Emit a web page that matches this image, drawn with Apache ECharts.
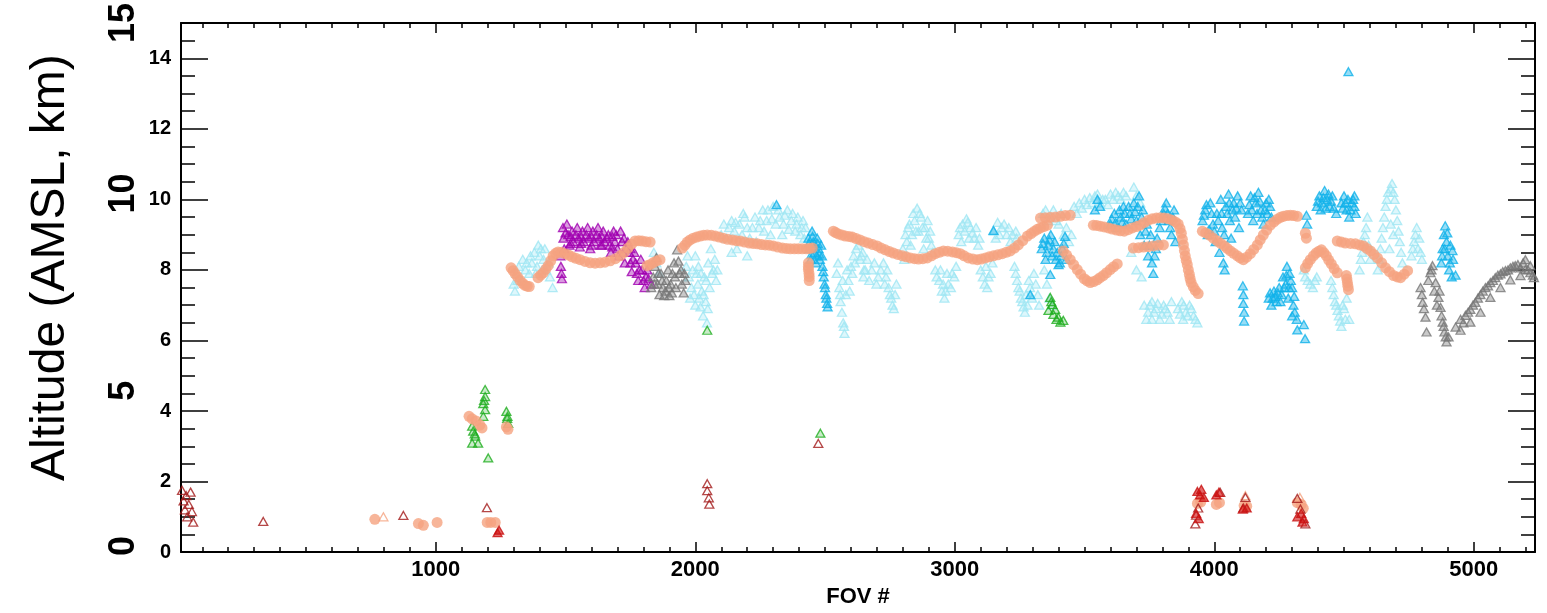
<!DOCTYPE html>
<html><head><meta charset="utf-8">
<script src="https://cdn.jsdelivr.net/npm/echarts@6/dist/echarts.min.js"></script>
<style>html,body{margin:0;padding:0;background:#fff}#c{width:1547px;height:613px}</style>
</head><body><div id="c"></div>
<script>
// ---- tick labels ----
const xTickLabels = [1000, 2000, 3000, 4000, 5000];
const yTickLabels = [0, 2, 4, 6, 8, 10, 12, 14];
const bigYLabels = [0, 5, 10, 15];

// ---- series values [FOV #, altitude km] ----
const lightCyan = [
[1300,7.6],[1310,7.9],[1320,8.1],[1330,7.7],[1335,8.3],[1350,8.2],[1360,7.9],[1365,8.4],[1380,8.5],[1390,8.1],[1395,8.7],[1405,8.6],[1415,8.3],[1425,8.0],[1440,7.8],[1450,7.5],
[1305,7.4],[1315,7.7],[1345,8.0],[1370,8.2],[1385,7.9],[1400,8.4],[1410,8.0],[1420,8.6],[1435,8.2],
[1840,8.5],[1850,8.2],[1860,7.9],
[1965,8.1],[1975,7.8],[1985,7.5],[1995,7.3],[2000,8.4],[2005,7.9],[2010,7.6],[2015,7.2],[2020,6.95],[2025,7.4],[2030,6.7],[2035,7.8],[2040,7.1],[2045,6.5],[2050,8.2],[2055,7.5],[2060,8.6],[2070,8.0],[2080,7.7],
[1970,8.4],[1980,7.2],[1990,8.0],[2000,7.0],[2012,8.1],[2022,7.9],[2032,7.3],[2042,7.7],[2048,6.9],[2065,7.9],[2075,8.3],[2085,8.0],
[2110,9.3],[2120,8.9],[2140,9.4],[2150,9.1],[2160,8.6],[2170,9.3],[2190,9.5],[2200,9.2],[2210,8.9],[2230,9.5],[2245,9.2],[2260,9.7],[2275,9.4],[2290,9.0],[2300,9.8],[2325,9.5],[2340,9.3],[2355,9.7],[2370,9.4],[2385,9.1],[2395,9.5],[2410,9.2],[2420,8.9],[2140,8.5],[2200,8.4],
[2100,9.0],[2130,9.2],[2155,9.35],[2180,9.0],[2185,9.6],[2220,9.2],[2235,8.8],[2250,9.4],[2265,9.1],[2280,9.7],[2295,9.45],[2310,9.3],[2320,9.7],[2335,9.0],[2345,9.55],[2360,9.15],[2375,9.6],[2390,9.3],[2405,9.0],[2415,9.4],[2425,9.2],
[2545,7.9],[2555,7.5],[2560,7.1],[2565,6.8],[2570,6.5],[2575,6.2],[2580,7.3],[2590,7.7],[2600,8.1],[2610,8.4],[2620,8.6],[2635,8.3],[2650,8.0],
[2550,8.2],[2558,7.3],[2568,7.7],[2573,6.4],[2585,8.0],[2595,7.4],[2605,7.9],[2615,8.2],[2628,8.7],[2645,8.5],
[2640,8.4],[2655,8.0],[2670,7.7],[2690,8.2],[2705,7.8],
[2648,7.8],[2662,8.3],[2680,8.0],[2698,7.6],[2715,8.0],[2730,7.6],[2740,8.0],[2750,7.3],[2760,7.0],[2770,7.3],
[2725,8.2],[2735,7.8],[2745,7.5],[2755,7.2],[2765,6.9],[2775,7.6],
[2800,8.6],[2810,9.0],[2825,9.3],[2840,9.6],[2855,9.75],[2870,9.5],[2885,9.2],[2900,8.9],[2915,8.5],[2830,8.7],[2860,9.1],[2880,8.6],
[2805,8.3],[2815,8.8],[2820,9.2],[2835,9.0],[2845,9.4],[2850,9.1],[2865,9.6],[2875,9.2],[2890,8.9],[2895,9.4],[2905,9.1],[2910,8.7],
[2925,8.0],[2940,7.7],[2950,7.4],[2960,7.2],[2975,7.6],[2990,7.9],[3005,8.1],
[2930,7.8],[2945,8.0],[2955,7.6],[2965,7.4],[2970,7.9],[2985,7.5],[2998,7.8],
[3015,9.0],[3030,9.3],[3045,9.45],[3060,9.2],[3075,8.9],[3090,8.7],
[3020,9.2],[3025,8.8],[3038,9.1],[3050,9.35],[3055,8.9],[3068,9.05],[3082,9.2],[3095,8.9],
[3100,8.0],[3115,7.6],[3130,7.8],[3145,8.2],[3108,7.8],[3120,8.1],[3125,7.5],[3138,7.9],
[3150,9.1],[3165,9.35],[3180,9.2],[3200,9.0],[3215,8.8],[3235,9.1],
[3158,8.9],[3172,9.0],[3190,9.3],[3208,9.2],[3222,9.0],[3238,8.9],
[3230,8.1],[3240,7.7],[3250,7.4],[3260,7.1],[3270,6.8],[3280,7.0],[3290,7.5],[3305,7.9],[3320,7.3],
[3235,7.9],[3245,7.5],[3255,7.2],[3265,6.95],[3275,7.3],[3285,7.7],[3298,7.2],[3312,7.6],[3325,7.0],
[3345,8.0],[3355,7.6],[3365,7.2],[3375,7.0],
[3340,9.6],[3360,9.4],[3380,9.7],[3400,9.3],[3420,9.0],[3440,8.8],
[3350,9.7],[3370,9.5],[3390,9.4],[3410,9.6],[3430,9.2],[3450,9.0],
[3460,9.8],[3480,9.9],[3500,10.0],[3520,10.05],[3540,10.1],[3560,9.9],[3580,10.0],[3600,10.15],[3620,10.2],[3640,10.0],[3660,10.1],
[3470,9.6],[3490,9.75],[3510,9.85],[3530,9.9],[3550,10.15],[3570,10.0],[3590,9.85],[3610,10.0],[3630,10.1],[3650,10.2],
[3690,10.35],[3700,10.1],[3715,9.9],[3680,8.5],[3700,8.0],[3720,7.8],
[3730,7.0],[3745,6.8],[3760,7.1],[3775,6.9],[3790,6.6],[3805,7.0],[3820,6.8],[3835,7.1],[3860,6.9],[3875,7.1],[3890,6.8],[3905,7.0],[3920,6.7],[3935,6.5],[3760,6.6],[3880,6.6],
[3738,6.6],[3752,7.0],[3768,6.8],[3782,7.05],[3798,6.75],[3812,6.9],[3828,6.6],[3868,6.75],[3882,7.0],[3898,6.7],[3912,6.9],[3928,6.6],
[4345,8.0],[4360,7.7],[4380,7.5],[4395,7.8],[4450,7.7],[4460,7.3],[4470,7.0],[4480,6.7],[4490,6.4],[4500,6.9],[4510,7.2],[4520,6.6],
[4350,7.8],[4370,7.6],[4388,7.7],[4455,7.5],[4465,7.1],[4475,6.85],[4485,6.55],[4495,7.0],[4505,6.6],
[4560,8.0],[4570,8.5],[4580,9.0],[4590,9.5],[4600,8.3],[4630,8.0],[4640,8.6],[4650,9.2],[4660,9.8],[4670,10.2],[4685,10.45],[4695,10.0],[4705,9.4],[4715,8.8],[4725,8.2],[4690,9.0],[4675,8.6],
[4565,8.3],[4575,8.8],[4585,9.2],[4595,8.7],[4635,8.3],[4645,8.9],[4655,9.5],[4665,10.0],[4680,10.3],[4690,10.2],[4700,9.7],[4710,9.1],[4720,8.5],[4680,9.3],
[4760,8.4],[4770,8.8],[4780,9.2],[4790,8.9],[4800,8.3],[4765,8.6],[4775,9.0],[4785,8.6],[4795,8.5]
];
const deepBlue = [
[2436,8.9],[2440,8.6],[2445,8.3],[2450,9.1],[2455,8.8],[2460,8.5],[2465,8.2],[2470,8.9],[2475,8.6],[2480,8.3],[2485,8.7],[2490,8.1],[2495,7.8],[2498,7.6],[2500,7.5],[2503,7.3],[2505,7.2],[2510,6.95],
[2438,8.75],[2448,8.45],[2452,8.95],[2458,8.65],[2468,8.4],[2472,8.75],[2478,8.45],[2488,8.4],[2493,7.95],[2508,7.05],
[2313,9.85],[3149,9.12],[3291,7.3],
[3335,8.6],[3345,8.9],[3350,8.3],[3360,8.7],[3370,9.0],[3375,8.4],[3385,8.8],[3395,8.5],[3405,8.2],[3415,8.6],[3425,8.95],[3430,8.3],[3368,7.87],[3400,8.15],
[3340,8.75],[3355,8.5],[3365,8.85],[3380,8.6],[3390,8.3],[3410,8.4],[3420,8.75],
[3540,9.7],[3550,10.0],[3560,9.8],
[3600,9.3],[3615,9.6],[3625,9.2],[3640,9.5],[3650,9.8],[3660,9.3],[3675,9.6],[3690,9.9],[3700,9.4],[3710,10.1],[3715,9.0],[3725,9.7],[3730,8.7],[3740,9.3],[3745,8.4],[3755,9.0],[3760,8.2],[3765,7.9],[3775,8.6],[3790,9.2],[3805,9.6],[3815,9.9],[3825,9.4],[3835,9.0],[3845,9.7],[3850,8.8],
[3605,9.45],[3620,9.35],[3635,9.7],[3645,9.35],[3655,9.6],[3670,9.8],[3680,9.45],[3695,9.65],[3705,9.8],[3720,9.5],[3735,9.1],[3750,8.7],[3770,8.4],[3780,8.9],[3795,9.4],[3810,9.75],[3820,9.6],[3830,9.2],[3840,9.5],
[3955,9.4],[3965,9.7],[3975,9.0],[3985,9.9],[3995,9.3],[4005,8.8],[4010,9.6],[4020,8.5],[4025,10.0],[4030,9.2],[4035,8.2],[4040,8.0],[4045,9.8],[4055,10.15],[4060,9.4],[4065,8.9],[4075,9.9],[4080,9.5],[4090,10.1],[4095,9.2],[4105,9.7],
[3960,9.55],[3970,9.85],[3980,9.15],[3990,9.6],[4000,9.1],[4015,9.4],[4028,9.6],[4038,9.0],[4050,9.6],[4058,9.9],[4070,9.7],[4085,9.75],[4100,9.9],
[4130,9.6],[4140,10.1],[4150,9.4],[4160,9.9],[4170,10.2],[4180,9.7],[4190,9.3],[4200,9.9],[4210,10.0],[4220,9.5],
[4135,9.85],[4145,9.7],[4155,10.05],[4165,9.6],[4175,9.95],[4185,9.5],[4195,9.7],[4205,9.6],[4215,9.8],
[4355,9.55],[4358,9.3],
[4395,9.8],[4405,10.1],[4415,9.9],[4425,10.25],[4435,10.0],[4445,9.8],[4455,10.1],[4470,9.6],[4490,9.9],[4500,10.1],[4510,9.7],[4520,9.5],[4530,9.9],[4540,10.1],[4545,9.6],
[4400,9.95],[4410,9.7],[4420,10.05],[4430,9.75],[4440,10.15],[4450,9.95],[4460,9.75],[4495,9.75],[4505,9.9],[4515,10.0],[4525,9.7],[4535,10.0],[4540,9.8],
[4110,7.55],[4112,7.3],[4112,7.05],[4115,6.8],[4115,6.55],
[4210,7.2],[4220,7.0],[4230,7.4],[4240,7.1],[4250,7.5],[4260,7.3],[4265,7.8],[4275,7.6],[4280,8.1],[4285,7.2],[4290,7.9],[4300,7.5],[4305,7.0],[4310,6.8],[4318,6.6],[4300,6.7],
[4215,7.35],[4225,7.2],[4235,7.25],[4245,7.35],[4255,7.1],[4270,7.5],[4278,7.85],[4288,7.5],[4295,7.7],[4308,7.25],
[4320,6.3],[4345,6.45],[4350,6.05],
[4875,8.2],[4880,8.6],[4885,9.0],[4890,9.25],[4895,8.8],[4900,8.4],[4905,8.0],[4910,8.7],[4915,7.8],[4920,8.3],[4930,7.85],
[4878,8.4],[4888,8.6],[4898,9.05],[4908,8.2],[4918,8.55],
[4517,13.62]
];
const purple = [
[1480,8.4],[1482,8.1],[1484,7.9],[1486,7.75],[1490,9.2],[1492,8.9],[1495,8.6],
[1505,9.3],[1510,9.0],[1515,8.7],[1525,9.1],[1530,8.8],[1545,9.2],[1550,8.9],[1555,8.65],
[1565,9.1],[1570,8.8],[1585,9.2],[1590,8.9],[1595,8.6],[1605,9.1],[1610,8.8],[1625,9.2],[1630,8.9],[1635,8.7],
[1645,9.1],[1650,8.8],[1665,9.0],[1670,8.7],[1675,8.5],[1685,9.1],[1690,8.8],[1700,8.6],[1705,8.4],
[1500,9.05],[1520,8.95],[1540,9.0],[1560,8.95],[1580,9.0],[1600,8.95],[1620,9.0],[1640,8.95],[1660,8.9],[1680,8.95],[1695,9.0],
[1520,8.75],[1560,8.75],[1600,8.7],[1640,8.7],[1680,8.65],
[1712,9.1],[1718,8.8],[1722,8.5],[1728,8.2],[1740,8.8],[1745,8.5],[1750,8.2],[1755,7.95],[1765,8.5],[1770,8.2],[1775,7.9],[1780,7.7],[1790,8.3],[1795,8.0],[1800,7.7],[1805,7.5],[1815,8.0],[1820,7.75],[1830,7.6],
[1725,8.9],[1735,8.6],[1750,8.6],[1760,8.3],[1785,8.0],[1810,7.8]
];
const gray = [
[1830,7.5],[1838,7.8],[1845,8.1],[1850,8.35],[1855,7.6],[1862,7.3],[1868,7.9],[1875,7.5],[1880,7.27],[1888,7.7],[1895,8.0],[1900,7.27],[1905,7.6],[1912,7.9],[1918,8.2],[1925,7.5],[1930,8.57],[1935,8.25],[1940,7.9],[1948,7.6],[1955,7.35],[1962,7.7],
[1842,7.6],[1858,7.9],[1872,7.7],[1885,7.4],[1898,7.5],[1910,7.35],[1922,7.8],[1945,8.0],[1958,7.9],
[4795,7.5],[4803,7.08],[4814,6.66],[4818,6.24],[4833,7.92],[4841,8.12],[4853,7.64],[4864,7.22],[4872,6.94],[4880,6.52],[4887,6.24],[4895,5.96],[4903,6.1],
[4800,7.3],[4808,6.9],[4825,7.7],[4837,8.0],[4848,7.4],[4858,7.0],[4868,7.4],[4876,6.7],[4884,6.4],[4892,6.1],
[4930,6.38],[4949,6.6],[4968,6.71],[4987,6.88],[5006,7.08],[5026,7.3],[5045,7.5],[5064,7.64],[5083,7.78],[5103,7.89],[5122,7.98],[5141,8.06],[5160,8.12],[5180,8.06],[5199,8.01],[5218,7.92],[5232,7.78],
[4949,6.29],[4987,6.52],[5026,6.8],[5064,7.22],[5103,7.5],[5141,7.72],[5180,7.84],[5218,8.12],[5199,8.29],
[4960,6.5],[4978,6.8],[4997,7.0],[5016,7.2],[5035,7.4],[5055,7.55],[5074,7.7],[5093,7.85],[5112,7.95],[5132,8.0],[5151,8.1],[5170,8.15],[5190,8.2],[5209,8.0],[5228,7.85]
];
const green = [
[1140,3.57],[1144,3.43],[1152,3.29],[1140,3.09],[1163,3.09],[1150,3.35],[1183,4.21],[1190,4.61],[1190,4.41],[1190,4.04],[1183,3.85],[1186,4.3],[1202,2.67],
[1272,3.99],[1275,3.79],[1279,3.65],[1276,3.85],
[2046,6.29],[2482,3.37],
[3361,6.85],[3368,7.22],[3376,7.02],[3380,6.74],[3387,6.88],[3399,6.66],[3407,6.52],[3418,6.57],[3372,7.1],[3392,6.6]
];
const salmon = [
[1290,8.06],[1298,7.98],[1306,7.89],[1315,7.8],[1325,7.7],[1335,7.62],[1344,7.56],[1352,7.54],[1360,7.53],
[1394,7.78],[1404,7.85],[1414,7.92],[1424,8.02],[1433,8.12],[1443,8.26],[1452,8.4],[1462,8.47],[1471,8.51],
[1484,8.5],[1498,8.46],[1512,8.42],[1525,8.37],[1540,8.33],[1556,8.29],[1575,8.24],[1595,8.2],[1614,8.19],[1633,8.2],[1652,8.22],[1672,8.26],[1692,8.32],[1711,8.4],[1726,8.5],[1741,8.62],[1755,8.73],[1768,8.82],[1782,8.83],[1795,8.82],[1810,8.8],[1826,8.79],
[1814,8.12],[1825,8.15],[1837,8.2],[1850,8.25],[1864,8.29],
[1950,8.62],[1960,8.7],[1969,8.79],[1980,8.85],[1992,8.9],[2005,8.93],[2019,8.96],[2032,8.98],[2046,8.99],[2062,8.98],[2077,8.96],[2092,8.93],[2108,8.9],[2125,8.87],[2143,8.85],[2158,8.83],[2173,8.82],[2190,8.79],[2208,8.76],[2223,8.75],[2239,8.74],[2255,8.72],[2270,8.71],[2285,8.7],[2301,8.68],[2318,8.65],[2336,8.62],[2351,8.61],[2366,8.6],[2382,8.6],[2397,8.6],[2412,8.6],[2428,8.6],[2440,8.61],[2451,8.62],
[2436,8.2],[2436,8.1],[2436,8.01],[2438,7.9],[2439,7.81],[2439,7.7],
[2532,9.1],[2541,9.06],[2551,9.02],[2565,8.99],[2578,8.96],[2592,8.95],[2605,8.93],[2620,8.89],[2635,8.85],[2651,8.8],[2667,8.76],[2684,8.72],[2701,8.68],[2716,8.62],[2732,8.57],[2748,8.52],[2763,8.48],[2780,8.44],[2798,8.4],[2813,8.37],[2829,8.34],[2845,8.32],[2860,8.31],[2877,8.32],[2894,8.34],[2910,8.4],[2925,8.46],[2940,8.5],[2956,8.54],[2973,8.53],[2991,8.51],[3006,8.49],[3021,8.46],[3036,8.4],[3052,8.34],[3070,8.31],[3087,8.29],[3102,8.31],[3118,8.34],[3133,8.37],[3149,8.4],[3166,8.43],[3183,8.46],[3198,8.5],[3214,8.54],[3230,8.62],[3245,8.71],[3262,8.83],[3280,8.96],[3294,9.03],[3307,9.1],[3318,9.15],[3330,9.19],[3343,9.23],[3357,9.27],
[3330,9.47],[3349,9.48],[3368,9.49],[3388,9.5],[3407,9.52],[3426,9.54],[3445,9.55],
[3418,8.54],[3431,8.42],[3445,8.29],[3458,8.15],[3472,8.01],[3485,7.88],[3499,7.75],[3510,7.69],[3522,7.64],[3535,7.67],[3549,7.72],[3560,7.78],[3572,7.84],[3585,7.92],[3599,8.01],[3612,8.09],[3626,8.17],
[3534,9.27],[3547,9.26],[3561,9.24],[3576,9.22],[3592,9.19],[3607,9.16],[3623,9.13],[3638,9.11],[3653,9.1],[3668,9.14],[3684,9.19],[3700,9.23],[3715,9.27],[3730,9.34],[3746,9.41],[3761,9.45],[3777,9.47],[3792,9.48],[3808,9.47],[3823,9.45],[3838,9.41],[3850,9.36],[3861,9.3],[3868,9.17],[3873,9.04],[3877,8.87],[3881,8.71],[3885,8.55],[3888,8.4],[3892,8.27],[3896,8.15],[3900,8.0],[3904,7.87],[3907,7.75],[3911,7.64],[3919,7.52],[3927,7.42],[3938,7.33],
[3688,8.62],[3708,8.63],[3727,8.65],[3746,8.66],[3765,8.68],[3785,8.7],[3804,8.71],
[3954,9.1],[3967,9.05],[3981,8.99],[3996,8.9],[4012,8.82],[4025,8.75],[4039,8.68],[4050,8.61],[4062,8.54],[4075,8.47],[4089,8.4],[4100,8.34],[4112,8.29],[4125,8.36],[4139,8.46],[4152,8.58],[4166,8.71],[4177,8.85],[4189,8.99],[4202,9.13],[4216,9.27],[4230,9.36],[4243,9.44],[4255,9.49],[4266,9.52],[4280,9.54],[4293,9.55],[4306,9.54],[4320,9.52],
[4351,9.04],[4355,8.9],
[4351,8.06],[4360,8.18],[4370,8.29],[4382,8.4],[4393,8.48],[4403,8.53],[4413,8.57],[4422,8.49],[4432,8.4],[4441,8.28],[4451,8.17],[4462,8.04],[4474,7.92],
[4509,7.84],[4511,7.74],[4513,7.64],[4515,7.54],[4517,7.44],
[4474,8.82],[4490,8.79],[4505,8.76],[4525,8.75],[4544,8.74],[4560,8.71],[4575,8.68],[4588,8.61],[4602,8.54],[4615,8.44],[4629,8.34],[4645,8.2],[4660,8.06],[4675,7.95],[4691,7.84],[4705,7.8],[4718,7.78],[4732,7.88],[4745,7.98],
[765,0.93],[933,0.81],[952,0.76],[1005,0.84],[1128,3.85],[1140,3.78],[1155,3.72],[1170,3.6],[1178,3.52],[1198,0.84],[1212,0.84],[1229,0.84],[1272,3.55],[1278,3.48],
[3935,1.38],[3948,1.42],[4008,1.35],[4020,1.4],[4115,1.32],[4125,1.3],[4320,1.4],[4335,1.35],[4343,1.24]
];
const salmonTri = [[798,1.0],[4120,1.6],[4330,1.55]];
const darkRed = [
[22,1.75],[28,1.45],[33,1.2],[38,1.6],[42,1.0],[48,1.35],[55,1.7],[60,1.15],[65,0.85],
[335,0.87],[875,1.04],[1197,1.26],
[2046,1.94],[2046,1.74],[2052,1.54],[2054,1.36],[2474,3.08],
[3927,0.8],[3930,1.05],[3938,1.25],[4023,1.69],[4112,1.25],[4120,1.55],[4332,1.22],[4351,0.8],[4320,1.52]
];
const redFilled = [
[1238,0.55],[1244,0.62],[3935,1.72],[3945,1.62],[3950,1.78],[3960,1.55],[4008,1.62],[4018,1.7],[3930,1.1],[3940,0.95],[4110,1.22],[4125,1.25],[4320,1.0],[4335,1.1],[4345,0.95],[4340,0.85]
];

const FONT = '"Liberation Sans", Arial, Helvetica, sans-serif';
const X_MIN = 18, X_MAX = 5236, Y_MIN = 0, Y_MAX = 15;

function tri(data, border, fill) {
  return { type: 'scatter', data: data, symbol: 'triangle', symbolSize: [9, 8],
    itemStyle: { color: fill, borderColor: border, borderWidth: 1.3 },
    xAxisIndex: 0, yAxisIndex: 0, silent: true };
}
const tickStyle = { color: '#000', width: 1.5 };
function xAx(pos, major, withLabels) {
  return {
    type: 'value', position: pos, min: X_MIN, max: X_MAX,
    splitNumber: major ? 5 : 52,
    axisLine: { show: major, onZero: false, lineStyle: { color: '#000', width: 2 } },
    axisTick: { show: true, inside: true, length: major ? 10 : 5, lineStyle: tickStyle },
    axisLabel: withLabels ? { show: true, margin: 7, color: '#000', fontFamily: FONT, fontWeight: 'bold', fontSize: 22,
      formatter: v => xTickLabels.includes(v) ? String(v) : '' } : { show: false },
    splitLine: { show: false },
    name: withLabels ? 'FOV #' : '', nameLocation: 'middle', nameGap: 28,
    nameTextStyle: { color: '#000', fontFamily: FONT, fontWeight: 'bold', fontSize: 22 }
  };
}
function yAx(pos, major, withLabels) {
  return {
    type: 'value', position: pos, min: Y_MIN, max: Y_MAX, interval: major ? 2 : 0.5,
    axisLine: { show: major, onZero: false, lineStyle: { color: '#000', width: 2 } },
    axisTick: { show: true, inside: true, length: major ? 27 : 14, lineStyle: tickStyle },
    axisLabel: withLabels ? { show: true, margin: 10, color: '#000', fontFamily: FONT, fontWeight: 'bold', fontSize: 20,
      formatter: v => yTickLabels.includes(v) ? String(v) : '' } : { show: false },
    splitLine: { show: false }
  };
}
const bigStyle = { fontFamily: FONT, fontWeight: 'bold', fontSize: 36, color: '#000',
  textShadowColor: '#9a9a9a', textShadowOffsetX: 2, textShadowOffsetY: 2, textShadowBlur: 0 };

const chart = echarts.init(document.getElementById('c'), null, { renderer: 'canvas' });
chart.setOption({
  animation: false,
  backgroundColor: '#fff',
  grid: { left: 181, right: 12, top: 23, bottom: 55 },
  xAxis: [xAx('bottom', true, true), xAx('bottom', false, false), xAx('top', true, false), xAx('top', false, false)],
  yAxis: [yAx('left', true, true), yAx('left', false, false), yAx('right', true, false), yAx('right', false, false),
    { type: 'value', position: 'left', min: Y_MIN, max: Y_MAX, interval: 5,
      axisLine: { show: false, onZero: false }, axisTick: { show: false }, splitLine: { show: false },
      axisLabel: Object.assign({ show: true, rotate: 90, margin: 39,
        formatter: v => bigYLabels.includes(v) ? '{b' + v + '|' + v + '}' : '',
        rich: {
          b0: Object.assign({ padding: [0, 0, 0, 12] }, bigStyle),
          b5: Object.assign({ padding: [0, 30, 0, 0] }, bigStyle),
          b10: Object.assign({ padding: [0, 0, 0, 12] }, bigStyle),
          b15: Object.assign({}, bigStyle)
        } }, bigStyle),
      name: 'Altitude (AMSL, km)', nameLocation: 'middle', nameRotate: 90, nameGap: 106,
      nameTextStyle: { color: '#000', fontFamily: FONT, fontSize: 48, padding: [0, 0, 0, 40] } }
  ],
  series: [
    tri(lightCyan, '#9fe6f3', 'rgba(170,236,248,0.5)'),
    tri(purple, '#a000b0', 'rgba(160,0,176,0.5)'),
    tri(gray, '#777777', 'rgba(119,119,119,0.5)'),
    tri(deepBlue, '#10b2ea', 'rgba(16,178,234,0.55)'),
    tri(green, '#1fae1f', 'rgba(31,174,31,0.3)'),
    { type: 'scatter', data: salmon, symbol: 'circle', symbolSize: 11, itemStyle: { color: '#f5a27f' }, silent: true },
    tri(salmonTri, '#f5a27f', 'rgba(255,255,255,0)'),
    tri(darkRed, '#a31919', 'rgba(255,255,255,0)'),
    tri(redFilled, '#c81010', 'rgba(210,20,20,0.8)')
  ]
});
</script></body></html>
